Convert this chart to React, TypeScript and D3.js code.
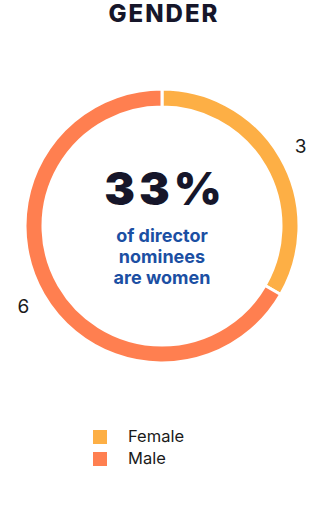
import React from "react";
import * as d3 from "d3";

const categories = ["Female", "Male"];
const values = [3, 6];
const colors = ["#FDAF45", "#FF7F50"];
const title = "GENDER";
const centerValue = "33%";
const centerLines = ["of director", "nominees", "are women"];

const W = 326;
const H = 532;

export default function App() {
  const cx = 162;
  const cy = 226;
  const outerR = 137;
  const innerR = 119;
  const labelR = 160;

  const pie = d3
    .pie<number>()
    .sort(null)
    .value((d) => d);
  const arcs = pie(values);
  const arc = d3.arc<d3.PieArcDatum<number>>().innerRadius(innerR).outerRadius(outerR);

  const color = d3.scaleOrdinal<string, string>().domain(categories).range(colors);

  return (
    <svg
      width={W}
      height={H}
      style={{ position: "absolute", left: 0, top: 0, background: "#fff" }}
    >
      <text
        x={164}
        y={22}
        textAnchor="middle"
        fontFamily="Inter, 'DejaVu Sans', sans-serif"
        fontWeight={800}
        fontSize={24}
        fill="#16162a"
        letterSpacing={2}
      >
        {title}
      </text>
      <g transform={`translate(${cx},${cy})`}>
        {arcs.map((a, i) => (
          <path
            key={i}
            d={arc(a) || ""}
            fill={color(categories[i])}
            stroke="#fff"
            strokeWidth={3}
          />
        ))}
        {arcs.map((a, i) => {
          const mid = (a.startAngle + a.endAngle) / 2;
          const x = labelR * Math.sin(mid);
          const y = -labelR * Math.cos(mid);
          return (
            <text
              key={"l" + i}
              x={x}
              y={y}
              dy="0.35em"
              textAnchor="middle"
              fontFamily="Inter, sans-serif"
              fontSize={19}
              fill="#1a1a1a"
            >
              {a.data}
            </text>
          );
        })}
        <text
          x={3}
          y={-21}
          textAnchor="middle"
          fontFamily="Inter, sans-serif"
          fontWeight={900}
          fontSize={46}
          fill="#16162a"
          letterSpacing={4}
        >
          {centerValue}
        </text>
        {centerLines.map((t, i) => (
          <text
            key={"c" + i}
            x={0}
            y={16 + i * 21}
            textAnchor="middle"
            fontFamily="Inter, sans-serif"
            fontWeight={700}
            fontSize={18}
            fill="#1b4fa3"
          >
            {t}
          </text>
        ))}
      </g>
      {categories.map((c, i) => (
        <g key={"lg" + i} transform={`translate(93,${430 + i * 22})`}>
          <rect width={14} height={14} fill={color(c)} />
          <text
            x={35}
            y={12}
            fontFamily="Inter, sans-serif"
            fontSize={16.5}
            fill="#1a1a1a"
          >
            {c}
          </text>
        </g>
      ))}
    </svg>
  );
}
